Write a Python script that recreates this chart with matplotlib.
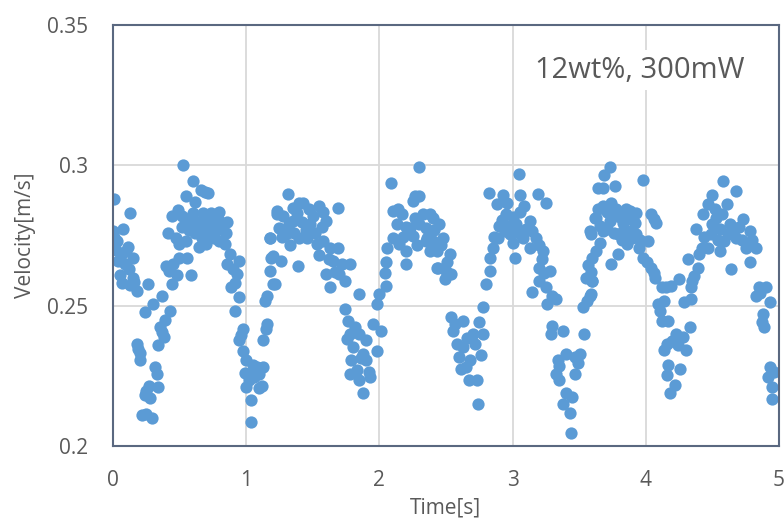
import matplotlib
matplotlib.use("Agg")
import matplotlib.pyplot as plt

# values, one list pair per cycle
t_cycle1 = [0.008, 0.128, 0.0, 0.078, 0.03, 0.1, 0.15, 0.05, 0.15, 0.18,
            0.02, 0.06, 0.09, 0.12, 0.04, 0.11, 0.07, 0.16, 0.13, 0.01,
            0.265, 0.365, 0.30, 0.24, 0.18, 0.2, 0.2, 0.19, 0.315, 0.33,
            0.24, 0.28, 0.34, 0.25, 0.27, 0.215, 0.29, 0.25,
            0.43, 0.39, 0.35, 0.38, 0.34, 0.37,
            0.44, 0.40, 0.48, 0.50, 0.56, 0.59, 0.42, 0.45,
            0.415, 0.44, 0.5, 0.55, 0.47,
            0.53, 0.60, 0.665, 0.715, 0.55, 0.615, 0.69, 0.80,
            0.49, 0.52, 0.56, 0.60, 0.63, 0.66, 0.70, 0.74, 0.78, 0.82,
            0.85, 0.52, 0.57, 0.62, 0.67, 0.72, 0.76, 0.80, 0.84, 0.70,
            0.65, 0.58, 0.74, 0.68, 0.86, 0.79,
            0.88, 0.95, 0.93, 0.89, 0.95, 0.915, 0.90, 0.86, 0.92,
            0.98, 0.95, 0.98, 1.0, 1.015, 1.0, 1.04, 1.04, 1.08, 1.13,
            1.1, 1.1, 0.99, 1.05, 1.02, 0.96, 1.06]
v_cycle1 = [0.288, 0.283, 0.2766, 0.2772, 0.273, 0.2695, 0.267, 0.261, 0.260, 0.2553,
            0.270, 0.268, 0.265, 0.263, 0.266, 0.271, 0.258, 0.2585, 0.2575, 0.2745,
            0.2577, 0.2536, 0.2506, 0.2476, 0.2364, 0.233, 0.2305, 0.2345, 0.228, 0.2258,
            0.218, 0.217, 0.221, 0.2195, 0.2215, 0.211, 0.210, 0.2115,
            0.248, 0.245, 0.2425, 0.239, 0.236, 0.2405,
            0.2577, 0.264, 0.261, 0.267, 0.267, 0.261, 0.2625, 0.265,
            0.276, 0.282, 0.272, 0.273, 0.274,
            0.3002, 0.2943, 0.2914, 0.290, 0.289, 0.2871, 0.2905, 0.2835,
            0.284, 0.282, 0.281, 0.283, 0.280, 0.278, 0.280, 0.279, 0.277, 0.278,
            0.276, 0.278, 0.277, 0.276, 0.274, 0.276, 0.274, 0.273, 0.272, 0.272,
            0.271, 0.279, 0.283, 0.283, 0.280, 0.281,
            0.2683, 0.266, 0.2612, 0.2565, 0.253, 0.2482, 0.263, 0.265, 0.258,
            0.2417, 0.2376, 0.234, 0.2305, 0.2258, 0.221, 0.2163, 0.2086, 0.228, 0.228,
            0.2258, 0.2205, 0.226, 0.229, 0.2235, 0.2395, 0.2245]

t_cycle2 = [1.14, 1.15, 1.13, 1.2, 1.19, 1.18, 1.23, 1.16, 1.16, 1.12,
            1.215, 1.18, 1.2, 1.265, 1.18,
            1.315, 1.23, 1.35, 1.43, 1.55, 1.69, 1.25, 1.35, 1.48, 1.6,
            1.40, 1.30, 1.53, 1.39, 1.63, 1.69, 1.65, 1.78, 1.60, 1.70,
            1.63, 1.74,
            1.28, 1.32, 1.38, 1.42, 1.45, 1.50, 1.52, 1.57, 1.46, 1.36,
            1.27, 1.33, 1.58, 1.55, 1.62, 1.67, 1.72, 1.40, 1.47, 1.58,
            1.85, 1.74, 1.765, 1.78, 1.80, 1.79, 1.78, 1.85, 1.88, 1.93,
            1.83, 1.9, 1.98, 1.85, 1.95, 2.01, 1.90, 1.88, 1.82, 1.76,
            1.92, 1.86]
v_cycle2 = [0.2518, 0.2417, 0.2376, 0.2577, 0.267, 0.274, 0.2825, 0.2535, 0.2435, 0.2215,
            0.2577, 0.2624, 0.2677, 0.266, 0.2742,
            0.2898, 0.2837, 0.2849, 0.2866, 0.2855, 0.2849, 0.2778, 0.2801, 0.2790, 0.2801,
            0.2742, 0.2754, 0.2719, 0.2642, 0.2707, 0.2707, 0.266, 0.2648, 0.2612, 0.2612,
            0.2565, 0.2589,
            0.282, 0.279, 0.283, 0.280, 0.277, 0.282, 0.276, 0.278, 0.274, 0.276,
            0.2745, 0.2715, 0.273, 0.268, 0.2665, 0.262, 0.265, 0.2865, 0.2845, 0.2835,
            0.2541, 0.2488, 0.2447, 0.24, 0.2352, 0.2305, 0.2258, 0.2234, 0.2187, 0.2246,
            0.227, 0.2305, 0.234, 0.24, 0.2435, 0.2411, 0.2376, 0.2329, 0.2425, 0.238,
            0.2265, 0.2315]

t_cycle3 = [1.98, 2.0, 2.05, 2.04, 2.05, 2.06, 2.1, 2.13, 2.1, 2.09,
            2.2, 2.15, 2.2, 2.23, 2.27, 2.25, 2.27, 2.3, 2.35, 2.4,
            2.4, 2.38, 2.43,
            2.17, 2.20, 2.25, 2.30, 2.33, 2.28, 2.18, 2.36, 2.14,
            2.30, 2.38, 2.45, 2.48, 2.35, 2.43, 2.53, 2.44, 2.50, 2.54,
            2.49, 2.41, 2.46, 2.51,
            2.54, 2.63, 2.55, 2.70, 2.78, 2.75, 2.58, 2.60, 2.65, 2.68,
            2.76, 2.63, 2.67, 2.73, 2.74, 2.78, 2.57, 2.66, 2.72, 2.61]
v_cycle3 = [0.2506, 0.2541, 0.2571, 0.2618, 0.2654, 0.2707, 0.2742, 0.279, 0.2837, 0.2937,
            0.2648, 0.2719, 0.2695, 0.2778, 0.2813, 0.2872, 0.289, 0.2996, 0.2778, 0.2813,
            0.273, 0.2695, 0.2636,
            0.2825, 0.278, 0.275, 0.279, 0.2825, 0.2715, 0.2745, 0.274, 0.2845,
            0.289, 0.2825, 0.279, 0.2742, 0.273, 0.2695, 0.2683, 0.2636, 0.2624, 0.2612,
            0.2594, 0.277, 0.2715, 0.2655,
            0.2459, 0.2447, 0.2411, 0.24, 0.24, 0.2441, 0.2364, 0.2317, 0.2281, 0.2305,
            0.2323, 0.2352, 0.2234, 0.2234, 0.2151, 0.2494, 0.2435, 0.2385, 0.2365, 0.2275]

t_cycle4 = [2.80, 2.83, 2.83, 2.85, 2.89, 2.90, 2.88, 2.82, 2.93, 3.05,
            3.06, 3.19, 3.25, 2.95, 3.03, 3.13, 2.98, 3.08, 3.18, 3.02,
            3.13, 3.23,
            2.92, 2.97, 3.00, 3.06, 3.10, 3.15, 3.00, 3.05, 2.94, 3.20,
            2.86, 3.09, 2.96,
            3.20, 3.28, 3.20, 3.25, 3.15, 3.30, 3.26, 3.33, 3.24, 3.22,
            3.30, 3.38, 3.29, 3.34, 3.40, 3.47, 3.51, 3.33, 3.35, 3.47,
            3.40, 3.45, 3.38, 3.43, 3.44, 3.35, 3.49]
v_cycle4 = [0.2577, 0.2624, 0.2671, 0.2707, 0.2742, 0.2784, 0.2861, 0.2902, 0.2896, 0.2969,
            0.2896, 0.2898, 0.2866, 0.2825, 0.279, 0.2801, 0.2754, 0.2742, 0.2742, 0.2671,
            0.2707, 0.2695,
            0.2805, 0.2785, 0.2815, 0.2835, 0.2775, 0.2765, 0.2725, 0.276, 0.2765, 0.2715,
            0.2745, 0.2855, 0.2865,
            0.2636, 0.2624, 0.2589, 0.2565, 0.2547, 0.2535, 0.2506, 0.2523, 0.2615, 0.2665,
            0.2429, 0.2411, 0.24, 0.2305, 0.2329, 0.2317, 0.2329, 0.2258, 0.2234, 0.2258,
            0.2187, 0.2175, 0.2151, 0.2116, 0.2045, 0.2285, 0.2295]

t_cycle5 = [3.54, 3.53, 3.58, 3.55, 3.60, 3.60, 3.59, 3.62, 3.64, 3.56,
            3.59, 3.57,
            3.73, 3.69, 3.68, 3.77, 3.98,
            3.68, 3.78, 3.88, 3.63, 3.73, 3.83, 3.93, 3.58, 3.68, 3.79,
            3.90, 3.63, 3.79, 3.74, 3.95, 3.98, 4.02, 3.60, 3.59,
            3.71, 3.75, 3.81, 3.86, 3.66, 3.71, 3.84, 3.87, 3.92, 3.76,
            3.82, 3.86, 3.66, 3.93, 3.96, 3.85, 3.64, 3.74,
            4.04, 4.08, 4.06,
            4.04, 4.07, 4.12, 4.19, 4.25, 4.09, 4.14, 4.11, 4.12, 4.17,
            4.16, 4.23, 4.28, 4.24, 4.30, 4.33, 4.14, 4.17, 4.16, 4.26,
            4.22, 4.18, 4.01, 4.15, 4.20, 4.06]
v_cycle5 = [0.24, 0.2494, 0.2535, 0.2600, 0.2589, 0.2671, 0.2754, 0.2813, 0.292, 0.2515,
            0.262, 0.2645,
            0.2996, 0.2967, 0.292, 0.2926, 0.2949,
            0.2855, 0.2843, 0.2837, 0.2813, 0.2801, 0.2796, 0.2831, 0.2766, 0.2766, 0.2754,
            0.2742, 0.2695, 0.2683, 0.2648, 0.2707, 0.2671, 0.2731, 0.2589, 0.2541,
            0.2835, 0.2815, 0.2815, 0.281, 0.2785, 0.2775, 0.2775, 0.2765, 0.2795, 0.276,
            0.2735, 0.272, 0.2725, 0.2755, 0.2735, 0.2845, 0.2845, 0.2865,
            0.2825, 0.2796, 0.281,
            0.2636, 0.2600, 0.2565, 0.2571, 0.2594, 0.2506, 0.2518, 0.2482, 0.2447, 0.2447,
            0.2364, 0.24, 0.2388, 0.2358, 0.2341, 0.2423, 0.2341, 0.2287, 0.2253, 0.2276,
            0.2217, 0.2187, 0.2655, 0.2565, 0.2375, 0.2615]

t_cycle6 = [4.29, 4.34, 4.34, 4.35, 4.39, 4.32, 4.40, 4.38, 4.43, 4.47,
            4.50, 4.58, 4.68, 4.61, 4.53, 4.63, 4.73, 4.49, 4.59, 4.68,
            4.78, 4.47, 4.56, 4.75, 4.83, 4.78, 4.64,
            4.50, 4.56, 4.62, 4.66, 4.70, 4.54, 4.44, 4.52, 4.42, 4.72,
            4.80, 4.36, 4.57,
            4.85, 4.90, 4.83, 4.93, 4.88, 4.87, 4.89, 4.93, 4.96, 4.92,
            4.95, 4.95, 4.86]
v_cycle6 = [0.2512, 0.2524, 0.2565, 0.2589, 0.2636, 0.2665, 0.2683, 0.2772, 0.2825, 0.2861,
            0.2896, 0.2943, 0.2908, 0.2861, 0.2813, 0.279, 0.2808, 0.2754, 0.273, 0.2742,
            0.2766, 0.2707, 0.2695, 0.2707, 0.2707, 0.2654, 0.263,
            0.279, 0.2775, 0.2755, 0.277, 0.278, 0.2735, 0.2745, 0.2845, 0.2705, 0.2735,
            0.2735, 0.2605, 0.2825,
            0.2565, 0.2565, 0.2535, 0.2512, 0.2471, 0.2441, 0.2423, 0.2281, 0.2264, 0.2246,
            0.2211, 0.2169, 0.2545]

time_s = t_cycle1 + t_cycle2 + t_cycle3 + t_cycle4 + t_cycle5 + t_cycle6
velocity = v_cycle1 + v_cycle2 + v_cycle3 + v_cycle4 + v_cycle5 + v_cycle6

x_ticks = [0, 1, 2, 3, 4, 5]
y_ticks = [0.2, 0.25, 0.3, 0.35]
y_tick_labels = ["0.2", "0.25", "0.3", "0.35"]

plt.rcParams["font.family"] = ["Open Sans", "DejaVu Sans"]
text_grey = "#595959"

fig = plt.figure(figsize=(7.84, 5.24), dpi=100)
ax = fig.add_axes([0.144, 0.149, 0.8495, 0.803])

ax.scatter(time_s, velocity, s=78, color="#5b9bd5", linewidths=0, zorder=3)

ax.set_xlim(0, 5)
ax.set_ylim(0.2, 0.35)
ax.set_xticks(x_ticks)
ax.set_yticks(y_ticks)
ax.set_yticklabels(y_tick_labels)
ax.grid(True, color="#d9d9d9", linewidth=1.3, zorder=0)
ax.set_axisbelow(True)
ax.tick_params(length=0, labelsize=15, labelcolor=text_grey)
ax.tick_params(axis="y", pad=18)
ax.tick_params(axis="x", pad=17)
for sp in ax.spines.values():
    sp.set_color("#5a6880")
    sp.set_linewidth(1.5)
    sp.set_zorder(4)

ax.set_xlabel("Time[s]", fontsize=15, color=text_grey, labelpad=5)
ax.set_ylabel("Velocity[m/s]", fontsize=15, color=text_grey, labelpad=8)

ax.text(0.791, 0.893, "12wt%, 300mW", transform=ax.transAxes, fontsize=21,
        color=text_grey, ha="center", va="center", zorder=5,
        bbox=dict(facecolor="white", edgecolor="none", pad=4))

fig.savefig("out.png", dpi=100)
